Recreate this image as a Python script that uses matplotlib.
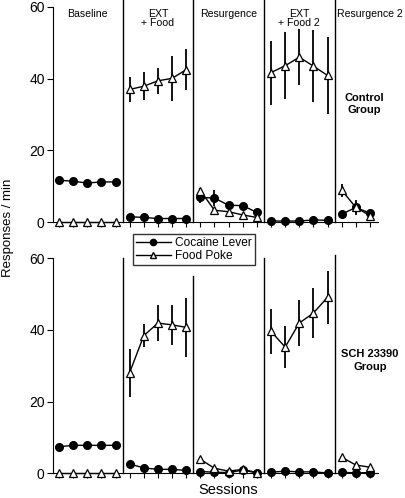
import numpy as np
import matplotlib.pyplot as plt

plt.rcParams['font.family'] = ['Liberation Sans', 'DejaVu Sans']

# sessions: baseline(5), EXT+Food(5), Resurgence(5), EXT+Food 2(5), Resurgence 2(3)
phases = ['Baseline', 'EXT\n+ Food', 'Resurgence', 'EXT\n+ Food 2', 'Resurgence 2']
phase_len = [5, 5, 5, 5, 3]

# Control group
ctrl_coc = [11.7, 11.4, 10.9, 11.2, 11.2,
            1.5, 1.3, 1.0, 1.0, 1.0,
            6.9, 6.7, 4.7, 4.6, 2.7,
            0.3, 0.3, 0.3, 0.6, 0.5,
            2.2, 4.1, 2.5]
ctrl_coc_err = [1.0, 0.8, 1.2, 1.0, 1.2,
                0.3, 0.3, 0.3, 0.3, 0.3,
                1.5, 2.3, 0.8, 0.8, 0.7,
                0.3, 0.3, 0.3, 0.3, 0.3,
                0.5, 2.0, 0.6]
ctrl_food = [0, 0, 0, 0, 0,
             37.0, 37.9, 39.4, 40.1, 42.5,
             8.8, 3.3, 2.9, 2.0, 1.3,
             41.7, 43.6, 46.0, 43.5, 40.9,
             8.9, 4.1, 1.8]
ctrl_food_err = [0, 0, 0, 0, 0,
                 3.6, 3.9, 3.7, 6.3, 5.7,
                 0.8, 0.5, 0.5, 0.5, 0.4,
                 8.9, 9.3, 7.8, 10.0, 10.7,
                 1.8, 1.5, 0.5]

# SCH 23390 group
sch_coc = [7.4, 7.8, 7.8, 7.8, 7.8,
           2.6, 1.5, 1.1, 1.1, 0.8,
           0.5, 0.3, 0.2, 0.9, 0.1,
           0.3, 0.6, 0.4, 0.4, 0.1,
           0.3, 0.1, 0.2]
sch_coc_err = [0.8, 0.5, 0.5, 0.5, 0.5,
               0.3, 0.3, 0.3, 0.3, 0.3,
               0.2, 0.2, 0.2, 0.3, 0.1,
               0.2, 0.2, 0.2, 0.2, 0.1,
               0.2, 0.1, 0.1]
sch_food = [0, 0, 0, 0, 0,
            28.1, 38.4, 41.9, 41.4, 40.7,
            3.9, 1.4, 0.6, 1.1, 0.2,
            39.6, 35.2, 41.9, 44.7, 49.1,
            4.5, 2.3, 1.7]
sch_food_err = [0, 0, 0, 0, 0,
                6.7, 3.3, 4.9, 5.5, 8.2,
                0.3, 0.3, 0.3, 0.3, 0.3,
                6.2, 5.8, 6.5, 7.0, 7.4,
                0.3, 0.3, 0.3]

group_labels = ['Control\nGroup', 'SCH 23390\nGroup']
divider_tops = [[62, 62, 62, 62], [60, 55, 60, 61]]

fig = plt.figure(figsize=(4.05, 4.98), dpi=100)
ax1 = fig.add_axes([0.131, 0.554, 0.802, 0.432])
ax2 = fig.add_axes([0.131, 0.0496, 0.802, 0.432])

x = np.arange(sum(phase_len))
bounds = np.cumsum(phase_len)[:-1] - 0.5
starts = np.concatenate([[0], np.cumsum(phase_len)[:-1]])

data = [(ctrl_coc, ctrl_coc_err, ctrl_food, ctrl_food_err),
        (sch_coc, sch_coc_err, sch_food, sch_food_err)]
label_pos = [(21.6, 33), (22.0, 31.5)]

for k, ax in enumerate([ax1, ax2]):
    coc, coc_e, food, food_e = data[k]
    for s, n in zip(starts, phase_len):
        seg = slice(s, s + n)
        ax.errorbar(x[seg], coc[seg], yerr=coc_e[seg], color='black', lw=1,
                    elinewidth=1.3, capsize=0, marker='o', ms=5.5,
                    mfc='black', mec='black', clip_on=False, zorder=3)
        ax.errorbar(x[seg], food[seg], yerr=food_e[seg], color='black', lw=1,
                    elinewidth=1.3, capsize=0, marker='^', ms=6,
                    mfc='white', mec='black', mew=0.9, clip_on=False, zorder=4)
    for b, top in zip(bounds, divider_tops[k]):
        ax.plot([b, b], [0, top], color='black', lw=1, clip_on=False)
    ax.set_xlim(-0.42, 22.56)
    ax.set_ylim(0, 60)
    ax.set_yticks([0, 20, 40, 60])
    ax.set_xticks(x)
    ax.set_xticklabels([])
    ax.spines['top'].set_visible(False)
    ax.spines['right'].set_visible(False)
    ax.tick_params(axis='x', direction='out', length=3.5, width=0.8)
    ax.tick_params(axis='y', direction='out', length=4, width=0.8, labelsize=10, pad=2)
    ax.text(label_pos[k][0], label_pos[k][1], group_labels[k], ha='center', va='center',
            fontsize=8, fontweight='bold', linespacing=1.3, clip_on=False)

for s, n, name in zip(starts, phase_len, phases):
    cx = s + (n - 1) / 2
    if name == 'Resurgence 2':
        cx = 22.0
    ax1.text(cx, 59.5, name, ha='center', va='top', fontsize=7.6, linespacing=0.95,
             clip_on=False)

coc_h = plt.Line2D([], [], color='black', lw=1, marker='o', ms=4.5, mfc='black')
food_h = plt.Line2D([], [], color='black', lw=1, marker='^', ms=5, mfc='white', mec='black')
leg = fig.legend([coc_h, food_h], ['Cocaine Lever', 'Food Poke'],
                 loc='upper left', bbox_to_anchor=(133 / 405, 1 - 234 / 498),
                 fontsize=8.6, frameon=True, fancybox=False, borderpad=0.25,
                 labelspacing=0.1, handlelength=2.9, handletextpad=0.4,
                 borderaxespad=0)
leg.get_frame().set_edgecolor('black')
leg.get_frame().set_linewidth(1)

fig.text(8 / 405, 1 - 228 / 498, 'Responses / min', rotation=90, ha='center',
         va='center', fontsize=9.5)
fig.text(228 / 405, 1 - 490 / 498, 'Sessions', ha='center', va='center', fontsize=10.5)

fig.savefig('out.png', dpi=100)
